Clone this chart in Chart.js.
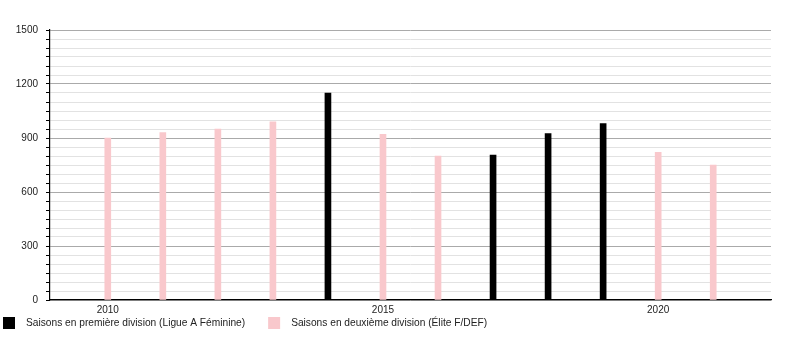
<!DOCTYPE html>
<html>
<head>
<meta charset="utf-8">
<script src="https://cdn.jsdelivr.net/npm/chart.js@4/dist/chart.umd.min.js"></script>
<style>
html,body{margin:0;padding:0;background:#fff;}
#wrap{width:800px;height:350px;position:relative;}
</style>
</head>
<body>
<div id="wrap"><canvas id="c" width="800" height="350"></canvas></div>
<script>
const seasons = [2010, 2011, 2012, 2013, 2014, 2015, 2016, 2017, 2018, 2019, 2020, 2021];
const firstDivision = [null, null, null, null, 1150, null, null, 805, 925, 980, null, null];
const secondDivision = [900, 930, 950, 990, null, 920, 800, null, null, null, 820, 750];
const xTickYears = [2010, 2015, 2020];
const seriesLabels = ["Saisons en première division (Ligue A Féminine)", "Saisons en deuxième division (Élite F/DEF)"];
const seriesColors = ["#000000", "#f9c8cc"];

const FONT = "'Liberation Sans', Arial, sans-serif";

function toPoints(arr) {
  const out = [];
  seasons.forEach((s, i) => { if (arr[i] !== null) out.push({x: s, y: arr[i]}); });
  return out;
}

const legendPlugin = {
  id: 'customLegend',
  afterDraw(chart) {
    const ctx = chart.ctx;
    ctx.save();
    ctx.font = "10.2px " + FONT;
    ctx.textBaseline = 'middle';
    ctx.textAlign = 'left';
    let x = 3;
    const y = 317;
    chart.data.datasets.forEach((ds) => {
      ctx.fillStyle = ds.backgroundColor;
      ctx.fillRect(x, y, 12, 12);
      ctx.fillStyle = '#222';
      const tx = x + 23;
      ctx.fillText(ds.label, tx, y + 6.5);
      x = tx + ctx.measureText(ds.label).width + 23;
    });
    ctx.restore();
  }
};

new Chart(document.getElementById('c'), {
  type: 'bar',
  data: {
    datasets: [
      { label: seriesLabels[0], data: toPoints(firstDivision), backgroundColor: seriesColors[0], barThickness: 6, grouped: false },
      { label: seriesLabels[1], data: toPoints(secondDivision), backgroundColor: seriesColors[1], barThickness: 6, grouped: false }
    ]
  },
  options: {
    responsive: false,
    animation: false,
    layout: { padding: { top: 30, right: 29, bottom: 30, left: 0 } },
    plugins: { legend: { display: false }, tooltip: { enabled: false } },
    scales: {
      x: {
        type: 'linear',
        offset: false,
        min: 2008.95,
        max: 2022.05,
        grid: { display: false, drawTicks: false, tickLength: 0 },
        border: { display: true, color: '#000', width: 1.2 },
        afterBuildTicks(scale) { scale.ticks = xTickYears.map(v => ({value: v})); },
        afterFit(scale) { scale.height = 20; },
        ticks: { font: { family: FONT, size: 10 }, color: '#222', padding: 4, autoSkip: false, maxRotation: 0,
          callback: (v) => String(v) }
      },
      y: {
        min: 0,
        max: 1500,
        afterFit(scale) { scale.width = 50; },
        border: { display: true, color: '#000', width: 1.2 },
        grid: {
          color: (c) => (c.tick && c.tick.value % 300 === 0) ? '#aaaaaa' : '#e2e2e2',
          tickColor: '#000',
          tickLength: 4,
          lineWidth: 1
        },
        ticks: {
          stepSize: 50,
          autoSkip: false,
          padding: 8,
          font: { family: FONT, size: 10 },
          color: '#222',
          callback: (v) => (v % 300 === 0 ? String(v) : '')
        }
      }
    }
  },
  plugins: [legendPlugin]
});
</script>
</body>
</html>
